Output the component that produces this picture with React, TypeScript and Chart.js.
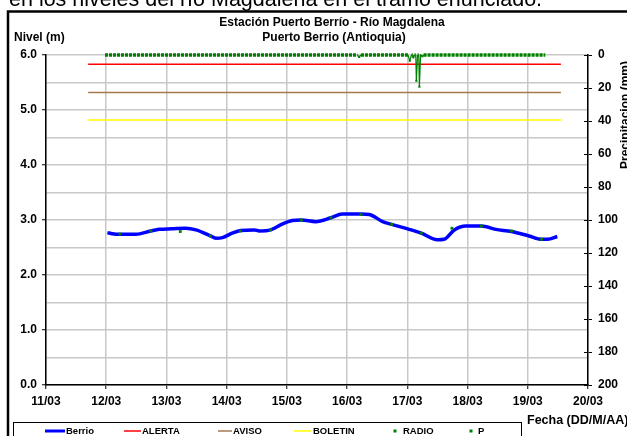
import React, { useEffect, useRef } from 'react';
import { Chart, registerables } from 'chart.js';

Chart.register(...registerables);

// ---------- data ----------
const dayTickLabels = ['11/03', '12/03', '13/03', '14/03', '15/03', '16/03', '17/03', '18/03', '19/03', '20/03'];

const berrioDays = [12.02, 12.1, 12.23, 12.49, 12.74, 12.88, 13.09, 13.32, 13.49, 13.73, 13.82, 13.93, 14.09, 14.23, 14.46, 14.54, 14.73, 14.93, 15.09, 15.24, 15.48, 15.73, 15.92, 16.23, 16.37, 16.59, 16.74, 17.03, 17.23, 17.5, 17.61, 17.78, 17.97, 18.23, 18.47, 18.73, 19.02, 19.23, 19.33, 19.49];
const berrioLevels = [2.77, 2.75, 2.74, 2.74, 2.8, 2.83, 2.84, 2.85, 2.82, 2.71, 2.67, 2.68, 2.76, 2.81, 2.82, 2.8, 2.82, 2.93, 2.99, 3.0, 2.97, 3.04, 3.11, 3.11, 3.1, 2.97, 2.92, 2.83, 2.76, 2.64, 2.65, 2.82, 2.89, 2.89, 2.83, 2.79, 2.71, 2.65, 2.65, 2.7];

const radioDays = [12.23, 12.74, 13.23, 13.73, 14.23, 14.73, 15.24, 15.73, 16.23, 16.74, 17.23, 17.74, 18.23, 18.73, 19.23];
const radioLevels = [2.745, 2.8, 2.79, 2.71, 2.8, 2.82, 3.0, 3.04, 3.1, 2.92, 2.76, 2.85, 2.89, 2.8, 2.65];

const pDays = [11.98, 16.17, 16.2, 16.23, 17.01, 17.04, 17.07, 17.09, 17.1, 17.12, 17.14, 17.15, 17.17, 17.19, 17.2, 17.22, 17.25, 17.27, 17.3, 19.29];
const pRain = [0, 0, 1.2, 0, 0, 3.4, 0, 0, 1.4, 0, 0, 15.6, 0, 0, 19.2, 0, 0.8, 0, 0, 0];

const thresholdDays = [11.7, 19.55];
const alertaLevel = 5.83;
const avisoLevel = 5.32;
const boletinLevel = 4.82;

const introText = 'en los niveles del río Magdalena en el tramo enunciado.';
const titleLines = ['Estación Puerto Berrío - Río Magdalena', 'Puerto Berrio (Antioquia)'];
const yTitle = 'Nivel (m)';
const y2Title = 'Precipitacion (mm)';
const xTitle = 'Fecha (DD/M/AA)';

// ---------- styles ----------
const FONT = '"Liberation Sans", Arial, Helvetica, sans-serif';
const BLUE = '#0000FF';
const RED = '#FF0000';
const BROWN = '#A57A50';
const YELLOW = '#FFFF00';
const GREEN = '#008000';
const GRID = '#C8C8C8';

const toXY = (xs: number[], ys: number[]) => xs.map((x, i) => ({ x, y: ys[i] }));

const legendLayout = [
  { kind: 'line', x0: 45, x1: 65, tx: 66, w: 3 },
  { kind: 'line', x0: 124, x1: 141, tx: 142, w: 1.5 },
  { kind: 'line', x0: 218, x1: 232, tx: 233, w: 1.5 },
  { kind: 'line', x0: 294, x1: 311, tx: 313, w: 1.5 },
  { kind: 'dot', x0: 395, x1: 395, tx: 403, w: 0 },
  { kind: 'dot', x0: 471, x1: 471, tx: 478, w: 0 },
];

const decor = {
  id: 'decor',
  afterDraw(chart: any) {
    const ctx: CanvasRenderingContext2D = chart.ctx;
    const ca = chart.chartArea;
    ctx.save();
    // outer frame
    ctx.strokeStyle = '#000';
    ctx.lineWidth = 2.5;
    ctx.beginPath();
    ctx.moveTo(8, 440);
    ctx.lineTo(8, 11.5);
    ctx.lineTo(630, 11.5);
    ctx.stroke();

    // text above the frame (cut off)
    ctx.fillStyle = '#000';
    ctx.font = `21.5px ${FONT}`;
    ctx.textAlign = 'left';
    ctx.textBaseline = 'alphabetic';
    ctx.fillText(introText, 9, 6);

    // titles
    ctx.font = `bold 12px ${FONT}`;
    ctx.textAlign = 'center';
    ctx.textBaseline = 'middle';
    ctx.fillText(titleLines[0], 332, 23);
    ctx.fillText(titleLines[1], 334, 38);
    ctx.textAlign = 'left';
    ctx.fillText(yTitle, 14, 38);

    // right axis title
    ctx.save();
    ctx.translate(628.5, 115);
    ctx.rotate(-Math.PI / 2);
    ctx.textAlign = 'center';
    ctx.textBaseline = 'alphabetic';
    ctx.fillText(y2Title, 0, 0);
    ctx.restore();

    // x title
    ctx.font = `bold 12.5px ${FONT}`;
    ctx.textAlign = 'left';
    ctx.textBaseline = 'middle';
    ctx.fillText(xTitle, 527, 421);

    // inner ticks of right axis
    const y2 = chart.scales.y2;
    ctx.strokeStyle = '#000';
    ctx.lineWidth = 1;
    y2.ticks.forEach((t: any) => {
      const yy = Math.round(y2.getPixelForValue(t.value)) + 0.5;
      ctx.beginPath();
      ctx.moveTo(ca.right - 4, yy);
      ctx.lineTo(ca.right, yy);
      ctx.stroke();
    });

    // legend box
    ctx.lineWidth = 1;
    ctx.strokeStyle = '#000';
    ctx.strokeRect(13.5, 422.5, 508, 40);
    const ds = chart.data.datasets;
    const order = ['Berrio', 'ALERTA', 'AVISO', 'BOLETIN', 'RADIO', 'P'];
    ctx.font = `bold 9.5px ${FONT}`;
    ctx.textBaseline = 'middle';
    ctx.textAlign = 'left';
    const ly = 431;
    order.forEach((label, i) => {
      const d: any = ds.find((q: any) => q.label === label);
      const L = legendLayout[i];
      if (L.kind === 'line') {
        ctx.strokeStyle = d.borderColor;
        ctx.lineWidth = L.w;
        ctx.beginPath();
        ctx.moveTo(L.x0, ly);
        ctx.lineTo(L.x1, ly);
        ctx.stroke();
      } else {
        ctx.fillStyle = GREEN;
        ctx.fillRect(L.x0 - 1.5, ly - 1.5, 3, 3);
      }
      ctx.fillStyle = '#000';
      ctx.fillText(label, L.tx, ly + 0.5);
    });
    ctx.restore();
  },
};

const isFlatZero = (c: any) => c.p0.parsed.y === 0 && c.p1.parsed.y === 0;

export default function App() {
  const ref = useRef<HTMLCanvasElement>(null);
  useEffect(() => {
    const canvas = ref.current!;
    Chart.defaults.font.family = FONT;
    const chart = new Chart(canvas, {
      type: 'line',
      data: {
        datasets: [
          {
            label: 'Berrio',
            data: toXY(berrioDays, berrioLevels),
            borderColor: BLUE,
            backgroundColor: BLUE,
            borderWidth: 3.5,
            pointRadius: 0,
            cubicInterpolationMode: 'monotone',
            yAxisID: 'y',
            order: 2,
          },
          {
            label: 'ALERTA',
            data: toXY(thresholdDays, [alertaLevel, alertaLevel]),
            borderColor: RED,
            backgroundColor: RED,
            borderWidth: 1.5,
            pointRadius: 0,
            yAxisID: 'y',
            order: 3,
          },
          {
            label: 'AVISO',
            data: toXY(thresholdDays, [avisoLevel, avisoLevel]),
            borderColor: BROWN,
            backgroundColor: BROWN,
            borderWidth: 1.5,
            pointRadius: 0,
            yAxisID: 'y',
            order: 4,
          },
          {
            label: 'BOLETIN',
            data: toXY(thresholdDays, [boletinLevel, boletinLevel]),
            borderColor: YELLOW,
            backgroundColor: YELLOW,
            borderWidth: 1.5,
            pointRadius: 0,
            yAxisID: 'y',
            order: 5,
          },
          {
            label: 'RADIO',
            data: toXY(radioDays, radioLevels),
            borderColor: GREEN,
            backgroundColor: GREEN,
            showLine: false,
            pointStyle: 'rect',
            pointRadius: 2,
            pointBorderWidth: 0,
            yAxisID: 'y',
            order: 0,
          },
          {
            label: 'P',
            data: toXY(pDays, pRain),
            borderColor: GREEN,
            backgroundColor: GREEN,
            borderWidth: 3.5,
            borderDash: [3, 1],
            segment: {
              borderDash: (c: any) => (isFlatZero(c) ? [3, 1] : []),
              borderWidth: (c: any) => (isFlatZero(c) ? 3.5 : 1.2),
            },
            pointStyle: 'rect',
            pointRadius: (c: any) => (c.raw && c.raw.y > 0 ? 1.5 : 0),
            pointBorderWidth: 0,
            clip: 6,
            yAxisID: 'y2',
            order: 1,
          },
        ] as any,
      },
      options: {
        responsive: false,
        animation: false,
        devicePixelRatio: 1,
        layout: { padding: { top: 55, left: 0, right: 0, bottom: 0 } },
        plugins: {
          legend: { display: false },
          tooltip: { enabled: false },
          title: { display: false },
        },
        scales: {
          x: {
            type: 'linear',
            min: 11,
            max: 20,
            afterFit: (s: any) => { s.height = 51; },
            ticks: {
              stepSize: 1,
              autoSkip: false,
              maxRotation: 0,
              padding: 5,
              color: '#000',
              font: { size: 12, weight: 'bold' },
              callback: (v: any) => dayTickLabels[Math.round(Number(v) - 11)] ?? '',
            },
            grid: { color: GRID, lineWidth: 1.5, tickColor: '#000', tickLength: 4, tickWidth: 1 },
            border: { color: '#000', width: 1.5 },
          },
          y: {
            position: 'left',
            min: 0,
            max: 6,
            afterFit: (s: any) => { s.width = 46; },
            ticks: {
              stepSize: 0.5,
              autoSkip: false,
              padding: 5,
              color: '#000',
              font: { size: 12, weight: 'bold' },
              callback: (v: any) => (Math.abs(Number(v) % 1) < 1e-6 ? Number(v).toFixed(1) : ''),
            },
            grid: {
              color: GRID,
              lineWidth: 1.5,
              tickLength: 4,
              tickWidth: 1,
              tickColor: (c: any) => (c.tick && Math.abs(c.tick.value % 1) < 1e-6 ? '#000' : 'rgba(0,0,0,0)'),
            },
            border: { color: '#000', width: 1.5 },
          },
          y2: {
            position: 'right',
            reverse: true,
            min: 0,
            max: 200,
            afterFit: (s: any) => { s.width = 39; },
            ticks: {
              stepSize: 20,
              autoSkip: false,
              padding: 6,
              color: '#000',
              font: { size: 12, weight: 'bold' },
            },
            grid: { drawOnChartArea: false, tickLength: 4, tickColor: '#000', tickWidth: 1 },
            border: { color: '#000', width: 1.5 },
          },
        },
      } as any,
      plugins: [decor],
    });
    return () => chart.destroy();
  }, []);
  return (
    <div style={{ position: 'absolute', left: 0, top: 0, width: 627, height: 436, overflow: 'hidden', background: '#fff' }}>
      <canvas ref={ref} width={627} height={436} style={{ display: 'block' }} />
    </div>
  );
}
